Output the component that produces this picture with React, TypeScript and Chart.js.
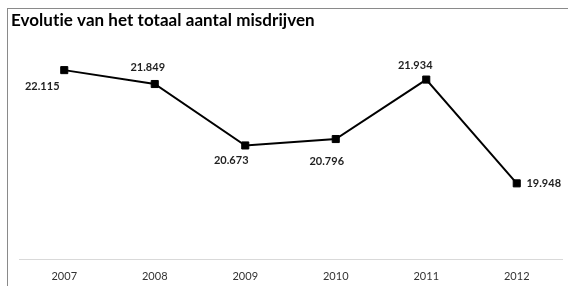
import React, { useEffect, useRef } from "react";
import { Chart, registerables } from "chart.js";

Chart.register(...registerables);

const TITLE = "Evolutie van het totaal aantal misdrijven";
const categories = ["2007", "2008", "2009", "2010", "2011", "2012"];
const values = [22115, 21849, 20673, 20796, 21934, 19948];
const yMin = 18500;
const yMax = 22500;

// label placement relative to each point (dx, dy) in px
const labelOffsets: [number, number][] = [
  [-22, 16],
  [-7, -17],
  [-14, 15],
  [-9, 22],
  [-11, -14],
  [27, 0],
];

const FONT = "Lato, 'Open Sans', sans-serif";

function fmt(v: number): string {
  return String(v).replace(/\B(?=(\d{3})+(?!\d))/g, ".");
}

const titlePlugin = {
  id: "customTitle",
  afterDraw(chart: any) {
    const ctx = chart.ctx;
    ctx.save();
    ctx.font = `bold 17px ${FONT}`;
    try {
      (ctx as any).letterSpacing = "0.05px";
    } catch (e) {}
    ctx.fillStyle = "#000";
    ctx.textAlign = "left";
    ctx.textBaseline = "alphabetic";
    ctx.fillText(TITLE, 3, 17);
    ctx.restore();
  },
};

const labelPlugin = {
  id: "valueLabels",
  afterDatasetsDraw(chart: any) {
    const ctx = chart.ctx;
    const meta = chart.getDatasetMeta(0);
    const data = chart.data.datasets[0].data as number[];
    ctx.save();
    ctx.font = `bold 11px ${FONT}`;
    ctx.fillStyle = "#1f1f1f";
    ctx.textAlign = "center";
    ctx.textBaseline = "middle";
    meta.data.forEach((pt: any, i: number) => {
      const [dx, dy] = labelOffsets[i] || [0, -14];
      ctx.fillText(fmt(data[i]), pt.x + dx, pt.y + dy);
    });
    ctx.restore();
  },
};

export default function App() {
  const ref = useRef<HTMLCanvasElement | null>(null);

  useEffect(() => {
    if (!ref.current) return;
    const chart = new Chart(ref.current, {
      type: "line",
      data: {
        labels: categories,
        datasets: [
          {
            data: values,
            borderColor: "#000",
            borderWidth: 2,
            tension: 0,
            pointStyle: "rect",
            pointRadius: 5,
            pointBorderWidth: 1,
            pointBackgroundColor: "#000",
            pointBorderColor: "#000",
            fill: false,
          },
        ],
      },
      options: {
        responsive: false,
        animation: false,
        layout: { padding: { left: 11, right: 6, top: 41, bottom: 3 } },
        plugins: {
          legend: { display: false },
          title: { display: false },
          tooltip: { enabled: false },
        },
        scales: {
          x: {
            offset: true,
            grid: { display: false, drawTicks: false },
            border: { display: true, color: "#d9d9d9", width: 1 },
            ticks: {
              padding: 11,
              maxRotation: 0,
              color: "#333",
              font: { family: FONT, size: 11 },
            },
            afterFit: (scale: any) => {
              scale.height = 24;
            },
          },
          y: {
            display: false,
            min: yMin,
            max: yMax,
          },
        },
      },
      plugins: [titlePlugin, labelPlugin],
    });
    return () => chart.destroy();
  }, []);

  return (
    <div
      style={{
        position: "absolute",
        left: 7,
        top: 8,
        width: 561,
        height: 278,
        boxSizing: "border-box",
        borderLeft: "1px solid #8a8a8a",
        borderTop: "1px solid #8a8a8a",
        background: "#fff",
      }}
    >
      <canvas ref={ref} width={560} height={277} style={{ display: "block" }} />
    </div>
  );
}
